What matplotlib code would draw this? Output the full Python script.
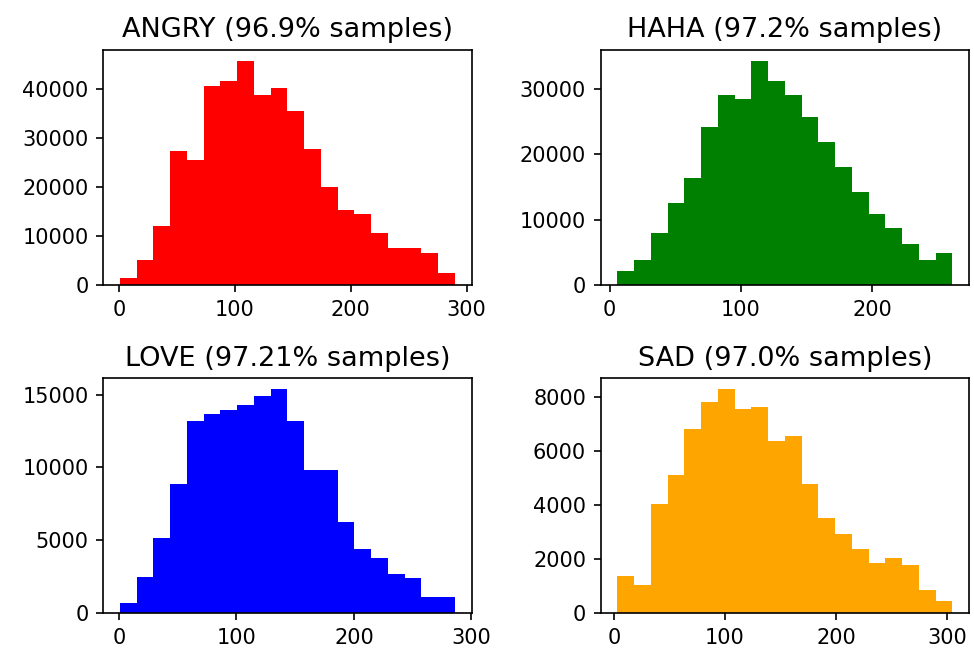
import numpy as np
import matplotlib
matplotlib.use("Agg")
import matplotlib.pyplot as plt

# bin range (min, max of data) and counts per bin, 20 bins each
angry_range = (1, 290)
angry_counts = [1500, 5150, 12000, 27200, 25500, 40600, 41500, 45600, 38800, 40100,
                35500, 27700, 19900, 15250, 14400, 10600, 7450, 7450, 6600, 2400]

haha_range = (6, 261)
haha_counts = [2200, 3860, 8000, 12500, 16300, 24200, 29000, 28400, 34200, 31100,
               29000, 25600, 21800, 18000, 14200, 10800, 8700, 6300, 3860, 4930]

love_range = (1, 286)
love_counts = [660, 2500, 5160, 8840, 13200, 13680, 13970, 14300, 14900, 15370,
               13200, 9800, 9800, 6230, 4380, 3770, 2700, 2370, 1120, 1120]

sad_range = (3, 305)
sad_counts = [1350, 1030, 4020, 5100, 6800, 7790, 8280, 7530, 7620, 6360,
              6540, 4780, 3530, 2940, 2360, 1860, 2030, 1780, 860, 440]

titles = ["ANGRY (96.9% samples)", "HAHA (97.2% samples)",
          "LOVE (97.21% samples)", "SAD (97.0% samples)"]
colors = ["red", "green", "blue", "orange"]

fig, axes = plt.subplots(2, 2, figsize=(974 / 150, 649 / 150), dpi=150)
plt.subplots_adjust(left=0.106, right=0.995, top=0.923, bottom=0.0555,
                    wspace=0.35, hspace=0.396)

data = [(angry_range, angry_counts), (haha_range, haha_counts),
        (love_range, love_counts), (sad_range, sad_counts)]

for ax, (rng, counts), title, col in zip(axes.flat, data, titles, colors):
    edges = np.linspace(rng[0], rng[1], len(counts) + 1)
    centers = (edges[:-1] + edges[1:]) / 2
    ax.hist(centers, bins=edges, weights=counts, color=col)
    ax.set_title(title, fontsize=13)
    ax.tick_params(labelsize=10)

plt.savefig("out.png")
